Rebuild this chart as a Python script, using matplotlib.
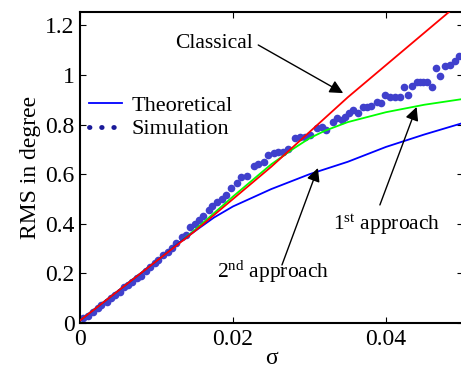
import numpy as np
import matplotlib
matplotlib.use("Agg")
import matplotlib.pyplot as plt
from matplotlib.lines import Line2D

plt.rcParams['font.family'] = ['Liberation Serif', 'DejaVu Serif']
plt.rcParams['mathtext.fontset'] = 'custom'
plt.rcParams['mathtext.rm'] = 'Liberation Serif'
plt.rcParams['mathtext.it'] = 'Liberation Serif:italic'

# curves (sigma, RMS in degree)
sig_cls = [0, 0.005, 0.01, 0.015, 0.02, 0.025, 0.03, 0.035, 0.04, 0.045, 0.05]
rms_cls = [0.01, 0.13, 0.25, 0.37, 0.50, 0.63, 0.77, 0.91, 1.04, 1.17, 1.30]

sig_1st = [0, 0.005, 0.01, 0.015, 0.02, 0.025, 0.028, 0.03, 0.032, 0.035, 0.04, 0.045, 0.05]
rms_1st = [0.01, 0.13, 0.25, 0.375, 0.51, 0.64, 0.705, 0.745, 0.775, 0.81, 0.85, 0.88, 0.903]

sig_th = [0, 0.005, 0.01, 0.013, 0.015, 0.0175, 0.02, 0.025, 0.03, 0.035, 0.04, 0.045, 0.05]
rms_th = [0.01, 0.13, 0.25, 0.325, 0.37, 0.425, 0.47, 0.54, 0.60, 0.65, 0.71, 0.76, 0.806]

sig_sim = [0.0004, 0.0011, 0.0017, 0.0023, 0.0028, 0.0035, 0.0041, 0.0046, 0.0052, 0.0058,
           0.0063, 0.0068, 0.0074, 0.008, 0.0086, 0.0092, 0.0098, 0.0102, 0.0109, 0.0115,
           0.012, 0.0126, 0.0133, 0.0139, 0.0144, 0.015, 0.0155, 0.0161, 0.0168, 0.0173,
           0.0179, 0.0185, 0.0191, 0.0198, 0.0205, 0.0211, 0.0218, 0.0227, 0.0233, 0.024,
           0.0246, 0.0253, 0.0259, 0.0266, 0.0272, 0.0281, 0.0288, 0.0294, 0.0301, 0.031,
           0.0316, 0.0322, 0.0331, 0.0336, 0.0342, 0.0346, 0.0352, 0.0357, 0.0364, 0.037,
           0.0375, 0.0381, 0.0388, 0.0394, 0.0399, 0.0405, 0.0412, 0.0418, 0.0423, 0.0429,
           0.0434, 0.044, 0.0444, 0.0449, 0.0453, 0.046, 0.0466, 0.0471, 0.0477, 0.0484,
           0.049, 0.0496]
rms_sim = [0.019, 0.028, 0.046, 0.059, 0.073, 0.086, 0.10, 0.113, 0.126, 0.144,
           0.153, 0.167, 0.18, 0.19, 0.211, 0.225, 0.241, 0.254, 0.274, 0.288,
           0.301, 0.321, 0.346, 0.355, 0.387, 0.398, 0.415, 0.43, 0.455, 0.47,
           0.489, 0.50, 0.516, 0.543, 0.566, 0.59, 0.593, 0.635, 0.643, 0.65,
           0.677, 0.687, 0.691, 0.691, 0.70, 0.745, 0.749, 0.751, 0.758, 0.785,
           0.789, 0.778, 0.812, 0.825, 0.819, 0.832, 0.845, 0.859, 0.845, 0.87,
           0.872, 0.875, 0.892, 0.888, 0.919, 0.913, 0.913, 0.913, 0.95, 0.919,
           0.956, 0.973, 0.973, 0.973, 0.973, 0.95, 1.027, 0.996, 1.036, 1.04,
           1.058, 1.077]

fig = plt.figure(figsize=(4.61, 3.72), dpi=100)
ax = fig.add_axes([80 / 461, 49 / 372, 382.5 / 461, 311 / 372])

ax.plot(sig_sim, rms_sim, 'o', color='#4040cc', markersize=5.5, markeredgewidth=0, zorder=2)
ax.plot(sig_1st, rms_1st, color='#00ff00', lw=1.3, zorder=3)
ax.plot(sig_th, rms_th, color='#0000ff', lw=1.3, zorder=3)
ax.plot(sig_cls, rms_cls, color='#ff0000', lw=1.3, zorder=4)

ax.set_xlim(0, 0.05)
ax.set_ylim(0, 1.254)
ax.set_xticks([0, 0.02, 0.04])
ax.set_xticklabels(['0', '0.02', '0.04'])
ax.set_yticks([0, 0.2, 0.4, 0.6, 0.8, 1.0, 1.2])
ax.set_yticklabels(['0', '0.2', '0.4', '0.6', '0.8', '1', '1.2'])
ax.tick_params(direction='in', length=4, width=0.8, labelsize=17, pad=4,
               top=True, right=True)
for s in ax.spines.values():
    s.set_linewidth(1.5)

ax.set_xlabel('σ', fontsize=17, labelpad=-1)
ax.set_ylabel('RMS in degree', fontsize=17, labelpad=3)

# annotations
arr = dict(arrowstyle='-|>', color='black', lw=1.0, mutation_scale=20, shrinkA=0, shrinkB=0)
ax.text(0.0226, 1.129, 'Classical', fontsize=15.5, ha='right', va='center')
ax.annotate('', xy=(0.0344, 0.927), xytext=(0.0233, 1.121), arrowprops=arr)
ax.text(0.0401, 0.395, r'1$^{\mathrm{st}}$ approach', fontsize=15.5, ha='center', va='center')
ax.annotate('', xy=(0.0440, 0.871), xytext=(0.0392, 0.476), arrowprops=arr)
ax.text(0.0252, 0.205, r'2$^{\mathrm{nd}}$ approach', fontsize=15.5, ha='center', va='center')
ax.annotate('', xy=(0.0311, 0.625), xytext=(0.0264, 0.234), arrowprops=arr)

handles = [Line2D([], [], color='#0000ff', lw=1.3),
           Line2D([], [], color='#1a1a99', lw=3.5, linestyle=(0, (0.1, 2.4)),
                  dash_capstyle='round')]
ax.legend(handles, ['Theoretical', 'Simulation'], loc='upper left',
          bbox_to_anchor=(0.0, 0.76), frameon=False, fontsize=16,
          handlelength=1.5, handletextpad=0.4, labelspacing=0.12, borderaxespad=0)

fig.savefig('out.png', dpi=100)
